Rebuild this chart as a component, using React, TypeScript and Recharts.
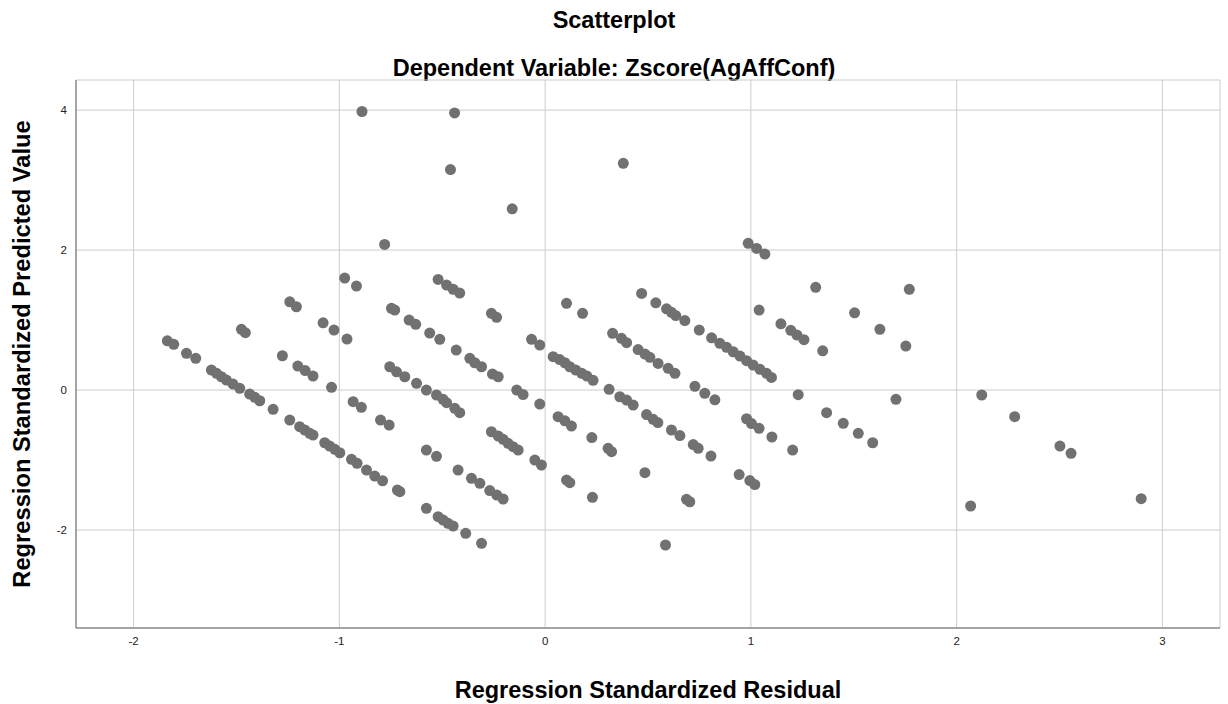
import { ScatterChart, Scatter, XAxis, YAxis, CartesianGrid, Label } from 'recharts';

// tick values
const xTicks = [-2, -1, 0, 1, 2, 3];
const yTicks = [-2, 0, 2, 4];

// one line per visual cluster, both arrays aligned line by line
const residuals = [
  -0.89, -0.44, -0.46, -0.16, 0.38, -0.78,
  -0.974, -0.917, -0.52, -0.479, -0.447, -0.415, -1.241, -1.209, -0.747, -0.731, -0.661, -0.629, -0.561, -0.512, -0.432, -1.079, -1.026, -0.963, -1.476, -1.457, -1.836, -1.805, -1.743, -1.698, -1.277, -1.202, -1.166, -1.128, -1.038,
  -1.622, -1.597, -1.573, -1.549, -1.517, -1.484, -1.436, -1.411, -1.387, -1.322, -1.241, -1.193, -1.168, -1.144, -1.128, -1.071, -1.047, -1.022, -0.998, -0.941, -0.914, -0.868, -0.828, -0.79, -0.718, -0.706, -0.577, -0.52, -0.496, -0.472, -0.447, -0.386, -0.309,
  -0.755, -0.722, -0.682, -0.625, -0.577, -0.528, -0.496, -0.479, -0.439, -0.415,
  -0.933, -0.893, -0.8, -0.758, -0.577, -0.528, -0.423, -0.358, -0.317, -0.269, -0.235, -0.204,
  -0.261, -0.236, -0.066, -0.026, -0.366, -0.342, -0.309, -0.256, -0.228, -0.138, -0.107, -0.026, -0.261, -0.228, -0.204, -0.18, -0.156, -0.131, -0.05, -0.018,
  0.104, 0.182, 0.039, 0.071, 0.096, 0.12, 0.149, 0.178, 0.203, 0.233, 0.063, 0.096, 0.128, 0.227, 0.306, 0.323, 0.104, 0.12, 0.23, 0.485, 0.687, 0.703, 0.585,
  0.311, 0.363, 0.396, 0.428, 0.493, 0.525, 0.548, 0.614, 0.655, 0.72, 0.744, 0.806,
  0.328, 0.371, 0.396, 0.452, 0.485, 0.509, 0.549, 0.598, 0.631,
  0.469, 0.538, 0.59, 0.614, 0.635, 0.679, 0.749, 0.809, 0.849, 0.882, 0.914, 0.947, 0.979, 1.011, 1.044, 1.076, 1.1,
  0.728, 0.776, 0.825, 0.979, 1.003, 1.04, 1.102, 0.943, 0.995, 1.019, 0.987, 1.028, 1.068, 1.04, 1.146, 1.194, 1.224, 1.258, 1.349, 1.315, 1.77, 1.504, 1.627, 1.753, 1.23, 1.705, 1.368, 1.449, 1.522, 1.592, 1.203, 2.122, 2.068, 2.282, 2.502, 2.556, 2.897,
];

const predicted = [
  3.98, 3.96, 3.15, 2.59, 3.24, 2.08,
  1.6, 1.486, 1.58, 1.5, 1.44, 1.385, 1.26, 1.19, 1.167, 1.143, 1.0, 0.939, 0.814, 0.724, 0.571, 0.961, 0.857, 0.729, 0.867, 0.819, 0.704, 0.653, 0.524, 0.453, 0.49, 0.343, 0.279, 0.2, 0.039,
  0.286, 0.239, 0.19, 0.143, 0.086, 0.024, -0.057, -0.104, -0.153, -0.276, -0.429, -0.524, -0.571, -0.619, -0.643, -0.753, -0.8, -0.847, -0.896, -0.99, -1.047, -1.143, -1.229, -1.296, -1.429, -1.453, -1.69, -1.81, -1.857, -1.904, -1.943, -2.047, -2.19,
  0.333, 0.261, 0.19, 0.096, 0.0, -0.071, -0.133, -0.181, -0.261, -0.324,
  -0.167, -0.247, -0.429, -0.5, -0.857, -0.947, -1.143, -1.261, -1.333, -1.436, -1.5, -1.557,
  1.096, 1.039, 0.724, 0.643, 0.453, 0.39, 0.333, 0.229, 0.19, 0.0, -0.064, -0.2, -0.596, -0.657, -0.704, -0.761, -0.81, -0.857, -1.0, -1.071,
  1.239, 1.096, 0.476, 0.436, 0.39, 0.333, 0.286, 0.239, 0.2, 0.139, -0.381, -0.439, -0.514, -0.679, -0.833, -0.881, -1.286, -1.324, -1.533, -1.181, -1.561, -1.596, -2.214,
  0.01, -0.096, -0.143, -0.214, -0.35, -0.419, -0.464, -0.571, -0.65, -0.779, -0.833, -0.943,
  0.81, 0.739, 0.676, 0.579, 0.514, 0.467, 0.381, 0.31, 0.239,
  1.381, 1.247, 1.161, 1.111, 1.064, 0.993, 0.857, 0.746, 0.667, 0.61, 0.547, 0.486, 0.419, 0.357, 0.296, 0.239, 0.181,
  0.053, -0.047, -0.139, -0.41, -0.479, -0.547, -0.671, -1.207, -1.293, -1.35, 2.096, 2.024, 1.943, 1.143, 0.947, 0.853, 0.786, 0.719, 0.561, 1.467, 1.439, 1.104, 0.867, 0.629, -0.067, -0.133, -0.324, -0.476, -0.619, -0.753, -0.857, -0.071, -1.657, -0.381, -0.8, -0.904, -1.553,
];

const points = residuals.map((x, i) => ({ x, y: predicted[i] }));

const font = '"Liberation Sans", Arial, sans-serif';
const axisStyle = { stroke: '#8f8f8f', strokeWidth: 1.5 };
const tickStyle = { fill: '#222', fontSize: 11.5, fontFamily: font };

const Dot = (p: any) => <circle cx={p.cx} cy={p.cy} r={5.5} fill="#717171" />;

const XTitle = ({ viewBox }: any) => (
  <text
    x={viewBox.x + viewBox.width / 2}
    y={viewBox.y + 62}
    textAnchor="middle"
    dominantBaseline="central"
    fontFamily={font}
    fontWeight="bold"
    fontSize={23.5}
    fill="#000"
  >
    Regression Standardized Residual
  </text>
);

const YTitle = ({ viewBox }: any) => {
  const cx = viewBox.x + 22;
  const cy = viewBox.y + viewBox.height / 2;
  return (
    <text
      x={cx}
      y={cy}
      transform={`rotate(-90 ${cx} ${cy})`}
      textAnchor="middle"
      dominantBaseline="central"
      fontFamily={font}
      fontWeight="bold"
      fontSize={23.7}
      fill="#000"
    >
      Regression Standardized Predicted Value
    </text>
  );
};

const titleStyle = {
  position: 'absolute' as const,
  left: 0,
  width: '100%',
  textAlign: 'center' as const,
  fontWeight: 'bold',
  fontSize: 23.5,
  lineHeight: '26px',
};

export default function App() {
  return (
    <div style={{ position: 'absolute', left: 0, top: 0, width: 1228, height: 704, background: '#fff', fontFamily: font }}>
      <div style={{ ...titleStyle, top: 7 }}>Scatterplot</div>
      <div style={{ ...titleStyle, top: 55 }}>Dependent Variable: Zscore(AgAffConf)</div>
      <ScatterChart width={1228} height={704} margin={{ top: 80, right: 8, bottom: 0, left: 0 }}>
        <CartesianGrid stroke="#cccccc" />
        <XAxis
          type="number"
          dataKey="x"
          domain={[-2.28, 3.28]}
          ticks={xTicks}
          allowDataOverflow
          height={76}
          axisLine={axisStyle}
          tickLine={false}
          tickSize={6}
          tickMargin={3}
          tick={tickStyle}
        >
          <Label content={XTitle} />
        </XAxis>
        <YAxis
          type="number"
          dataKey="y"
          domain={[-3.4, 4.43]}
          ticks={yTicks}
          allowDataOverflow
          width={76}
          axisLine={axisStyle}
          tickLine={false}
          tickSize={5}
          tickMargin={4}
          tick={tickStyle}
        >
          <Label content={YTitle} />
        </YAxis>
        <Scatter data={points} shape={Dot} isAnimationActive={false} />
      </ScatterChart>
    </div>
  );
}
